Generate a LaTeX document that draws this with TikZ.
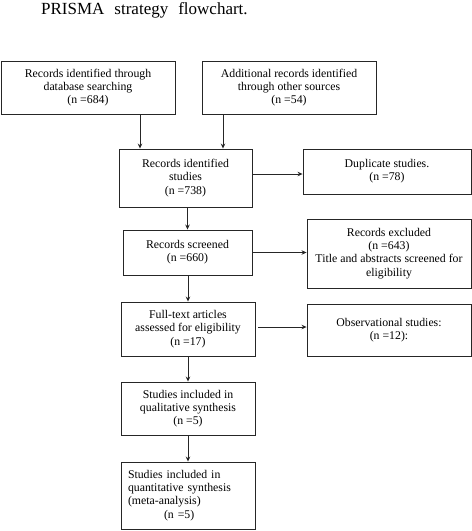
\documentclass[tikz,border=0pt]{standalone}
\usepackage{fontspec}
\setmainfont{Liberation Serif}
\usetikzlibrary{arrows.meta}
\begin{document}
\begin{tikzpicture}[x=1pt,y=-1pt,
  box/.style={draw=black!85,line width=0.9pt,inner sep=0pt,align=center,
    font=\fontsize{11.8}{13.3}\selectfont},
  arr/.style={draw=black!85,line width=1pt,-{Stealth[length=5pt,width=4.5pt]}},
  thinarr/.style={draw=black!85,line width=0.7pt,-{Stealth[length=5pt,width=4.5pt]}}]
\useasboundingbox (0,0) rectangle (472,531);
\node[anchor=base west,inner sep=0pt,font=\fontsize{17}{20}\selectfont] (title) at (41,14)
  {PRISMA\hspace{10pt}strategy\hspace{10pt}flowchart.};
\node[box,minimum width=174pt,minimum height=53pt] (b1) at (88,87.5)
  {Records identified through\\database searching\\(n =684)};
\node[box,minimum width=174pt,minimum height=53pt] (b2) at (289,87.5)
  {Additional records identified\\through other sources\\(n =54)};
\node[box,minimum width=133pt,minimum height=58pt] (b3) at (185.5,178)
  {Records identified\\studies\\(n =738)};
\node[box,minimum width=168pt,minimum height=45pt] (dup) at (387,171.5)
  {Duplicate studies.\\(n =78)};
\node[box,minimum width=129pt,minimum height=45pt] (scr) at (187.5,252.5)
  {Records screened\\(n =660)};
\node[box,minimum width=164pt,minimum height=69pt] (exc) at (389,253.5)
  {Records excluded\\(n =643)\\Title and abstracts screened for\\eligibility};
\node[box,minimum width=134pt,minimum height=54pt] (ft) at (188,329)
  {Full-text articles\\assessed for eligibility\\(n =17)};
\node[box,minimum width=164pt,minimum height=52pt] (obs) at (389,330)
  {Observational studies:\\(n =12):};
\node[box,minimum width=134pt,minimum height=53pt] (qual) at (188,408.5)
  {Studies included in\\qualitative synthesis\\(n =5)};
\node[box,align=left,text width=120pt,inner xsep=7pt,minimum height=67pt] (quant) at (188,495.5)
  {Studies included in\\quantitative synthesis\\(meta-analysis)\\\hspace*{36pt}(n =5)};
\draw[arr] ([xshift=52pt]b1.south) -- ([xshift=52pt]b1.south |- b3.north);
\draw[arr] ([xshift=-66pt]b2.south) -- ([xshift=-66pt]b2.south |- b3.north);
\draw[arr] ([yshift=4pt]b3.east) -- ([yshift=4pt]b3.east -| dup.west);
\draw[arr] (scr.north |- b3.south) -- (scr.north);
\draw[arr] (scr.east) -- (scr.east -| exc.west);
\draw[arr] (ft.north |- scr.south) -- (ft.north);
\draw[thinarr] ([xshift=3pt,yshift=2pt]ft.east) -- ([yshift=2pt]ft.east -| obs.west);
\draw[arr] (ft.south) -- (qual.north);
\draw[arr] (qual.south) -- (quant.north);
\end{tikzpicture}
\end{document}
